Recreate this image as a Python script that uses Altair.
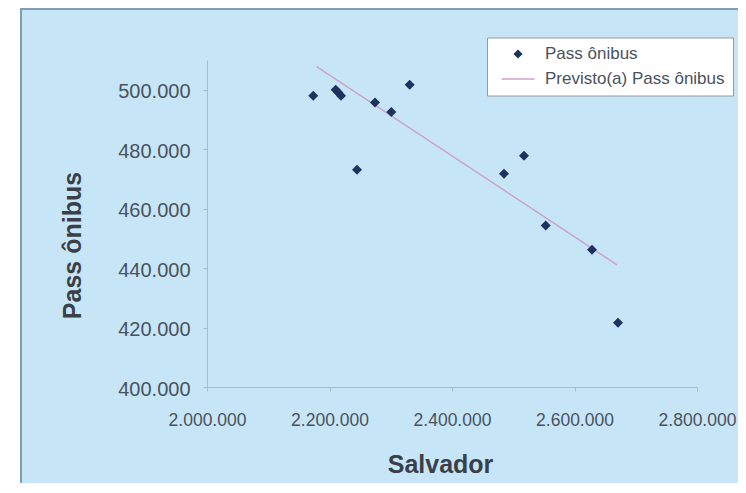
import altair as alt
import pandas as pd

# ---- data ----
salvador = [2173500, 2210100, 2214400, 2218800, 2244900, 2274300, 2300900,
            2330900, 2484900, 2517600, 2553000, 2628600, 2671000]
pass_onibus = [498000, 500000, 499100, 498000, 473100, 495700, 492500,
               501700, 471700, 477800, 454300, 446200, 421600]
pred_x = [2179000, 2669400]
pred_y = [507800, 441100]
series = ["Pass ônibus", "Previsto(a) Pass ônibus"]
x_ticks = [2000000, 2200000, 2400000, 2600000, 2800000]
y_ticks = [400000, 420000, 440000, 460000, 480000, 500000]

BG = "#C6E6F8"
BORDER = "#7F9DB9"
NAVY = "#1E3260"
PINK = "#CBA3C6"
AXIS = "#A3BDD1"
LABEL = "#4A525C"
TITLE = "#3A4048"
FONT = "Liberation Sans"

pts = pd.DataFrame({"x": salvador, "y": pass_onibus, "s": series[0]})
pred = pd.DataFrame({"x": pred_x, "y": pred_y, "s": series[1]})

fmt = "replace(replace(format(datum.value, ',d'), ',', '.'), ',', '.')"

common_axis = dict(domainColor=AXIS, tickColor=AXIS, tickSize=4, grid=False, zindex=1,
                   labelFont=FONT, labelColor=LABEL,
                   labelOverlap=False, labelBound=False, labelFlush=False,
                   titleFont=FONT, titleFontSize=25, titleFontWeight="bold", titleColor=TITLE)

xenc = alt.X("x:Q", scale=alt.Scale(domain=[2000000, 2800000], nice=False, zero=False),
             axis=alt.Axis(values=x_ticks, labelExpr=fmt, title="Salvador", labelPadding=20,
                           labelFontSize=17.5,
                           titleX=233, titleY=85, titleBaseline="alphabetic", titleAlign="center",
                           **common_axis))
yenc = alt.Y("y:Q", scale=alt.Scale(domain=[400000, 510000], nice=False, zero=False),
             axis=alt.Axis(values=y_ticks, labelExpr=fmt, title="Pass ônibus",
                           labelFontSize=20,
                           titleX=-127, titleY=185, titleBaseline="alphabetic", titleAngle=270,
                           titleAlign="center", labelPadding=13, labelOffset=2,
                           **common_axis))

legend = alt.Legend(title=None, orient="none", legendX=280, legendY=-22.5,
                    fillColor="white", strokeColor="#9A9A9A", padding=8,
                    symbolSize=49, symbolOffset=14.5, labelOffset=18.5, rowPadding=7,
                    labelFontSize=17, labelFont=FONT, labelColor=LABEL, labelLimit=400,
                    symbolStrokeWidth=1.5, zindex=1)
color = alt.Color("s:N", scale=alt.Scale(domain=series, range=[NAVY, PINK]), legend=legend)
shape = alt.Shape("s:N", scale=alt.Scale(domain=series, range=["diamond", "M-4.7,0L4.7,0"]),
                  legend=legend)

bg = alt.Chart(pd.DataFrame({"k": [0]})).mark_rect(
    fill=BG, stroke=BORDER, strokeWidth=2
).encode(x=alt.value(-186), x2=alt.value(620), y=alt.value(-51), y2=alt.value(520))

line = alt.Chart(pred).mark_line(strokeWidth=1.5).encode(x=xenc, y=yenc, color=color)

points = alt.Chart(pts).mark_point(filled=True, size=100, opacity=1).encode(
    x=xenc, y=yenc, color=color, shape=shape)

chart = alt.layer(bg, line, points).properties(
    width=490, height=327,
    padding={"left": 199, "top": 52, "right": 41, "bottom": 96},
    autosize=alt.AutoSizeParams(type="none"),
    background="white",
).configure_view(stroke=None)

chart.save("out.html", embed_options={"renderer": "svg", "actions": False})
